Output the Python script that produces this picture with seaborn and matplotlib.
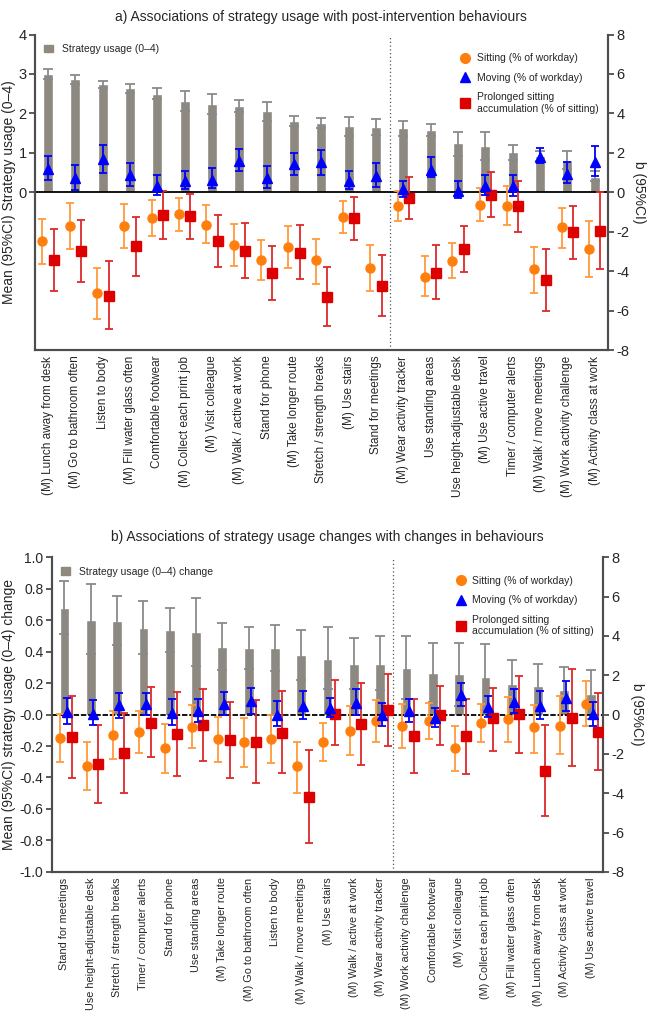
import numpy as np
import pandas as pd
import matplotlib
matplotlib.use("Agg")
import matplotlib.pyplot as plt
from matplotlib.patches import Patch
from matplotlib.lines import Line2D
import seaborn as sns

# ---- data: panel a ----
top_labels = ["(M) Lunch away from desk", "(M) Go to bathroom often", "Listen to body",
              "(M) Fill water glass often", "Comfortable footwear", "(M) Collect each print job",
              "(M) Visit colleague", "(M) Walk / active at work", "Stand for phone",
              "(M) Take longer route", "Stretch / strength breaks", "(M) Use stairs",
              "Stand for meetings", "(M) Wear activity tracker", "Use standing areas",
              "Use height-adjustable desk", "(M) Use active travel", "Timer / computer alerts",
              "(M) Walk / move meetings", "(M) Work activity challenge", "(M) Activity class at work"]
top_usage = [3.00, 2.86, 2.74, 2.64, 2.50, 2.31, 2.25, 2.19, 2.05, 1.80, 1.76, 1.67, 1.65, 1.64, 1.57, 1.25, 1.17, 1.01, 0.93, 0.83, 0.40]
top_usage_lo = [2.86, 2.74, 2.65, 2.52, 2.36, 2.05, 1.99, 2.04, 1.80, 1.67, 1.63, 1.44, 1.46, 1.44, 1.42, 0.93, 0.82, 0.82, 0.80, 0.59, 0.30]
top_usage_hi = [3.13, 2.97, 2.82, 2.75, 2.64, 2.56, 2.50, 2.35, 2.28, 1.94, 1.89, 1.92, 1.85, 1.82, 1.72, 1.53, 1.53, 1.20, 1.06, 1.06, 0.55]

top_sit = [-2.49, -1.73, -5.12, -1.73, -1.31, -1.12, -1.64, -2.68, -3.44, -2.76, -3.44, -1.27, -3.85, -0.71, -4.27, -3.47, -0.63, -0.71, -3.90, -1.78, -2.88]
top_sit_lo = [-3.64, -2.88, -6.41, -2.83, -2.20, -1.95, -2.59, -3.73, -4.46, -3.81, -4.63, -2.08, -5.00, -1.47, -5.25, -4.32, -1.44, -1.64, -5.08, -2.80, -4.29]
top_sit_hi = [-1.36, -0.54, -3.81, -0.59, -0.39, -0.31, -0.66, -1.61, -2.41, -1.73, -2.34, -0.46, -2.68, 0.08, -3.25, -2.59, 0.22, 0.31, -2.76, -0.80, -1.44]

top_move = [1.19, 0.73, 1.69, 0.90, 0.34, 0.60, 0.65, 1.60, 0.73, 1.44, 1.52, 0.60, 0.85, 0.17, 1.14, 0.08, 0.34, 0.30, 1.78, 0.93, 1.53]
top_move_lo = [0.64, 0.14, 1.00, 0.32, -0.14, 0.17, 0.22, 1.07, 0.20, 0.90, 0.90, 0.17, 0.29, -0.25, 0.76, -0.29, -0.14, -0.17, 1.47, 0.49, 0.81]
top_move_hi = [1.86, 1.37, 2.39, 1.51, 0.88, 1.08, 1.24, 2.20, 1.32, 2.00, 2.15, 1.07, 1.49, 0.59, 1.80, 0.59, 0.86, 0.88, 2.24, 1.54, 2.34]

top_prol = [-3.42, -2.97, -5.24, -2.73, -1.15, -1.22, -2.46, -2.97, -4.10, -3.05, -5.29, -1.32, -4.75, -0.31, -4.07, -2.88, -0.14, -0.71, -4.46, -2.03, -1.95]
top_prol_lo = [-5.00, -4.54, -6.95, -4.24, -2.36, -2.34, -3.76, -4.36, -5.47, -4.41, -6.78, -2.41, -6.27, -1.36, -5.42, -4.02, -1.24, -2.00, -6.02, -3.39, -3.90]
top_prol_hi = [-1.86, -1.41, -3.47, -1.24, 0.05, -0.08, -1.15, -1.53, -2.71, -1.64, -3.76, -0.22, -3.17, 0.76, -2.68, -1.69, 1.02, 0.59, -2.88, -0.68, 0.00]

# ---- data: panel b ----
bot_labels = ["Stand for meetings", "Use height-adjustable desk", "Stretch / strength breaks",
              "Timer / computer alerts", "Stand for phone", "Use standing areas",
              "(M) Take longer route", "(M) Go to bathroom often", "Listen to body",
              "(M) Walk / move meetings", "(M) Use stairs", "(M) Walk / active at work",
              "(M) Wear activity tracker", "(M) Work activity challenge", "Comfortable footwear",
              "(M) Visit colleague", "(M) Collect each print job", "(M) Fill water glass often",
              "(M) Lunch away from desk", "(M) Activity class at work", "(M) Use active travel"]
bot_usage = [0.677, 0.603, 0.593, 0.552, 0.535, 0.524, 0.430, 0.420, 0.420, 0.376, 0.355, 0.323, 0.323, 0.298, 0.266, 0.256, 0.239, 0.192, 0.180, 0.154, 0.129]
bot_usage_lo = [0.514, 0.383, 0.440, 0.383, 0.400, 0.307, 0.285, 0.292, 0.277, 0.218, 0.165, 0.160, 0.154, 0.100, 0.080, 0.055, 0.030, 0.040, 0.035, 0.010, -0.030]
bot_usage_hi = [0.846, 0.830, 0.755, 0.720, 0.680, 0.742, 0.580, 0.556, 0.570, 0.535, 0.556, 0.486, 0.497, 0.497, 0.457, 0.457, 0.450, 0.345, 0.323, 0.300, 0.285]

bot_sit = [-1.17, -2.62, -1.04, -0.87, -1.72, -0.63, -1.26, -1.40, -1.26, -2.62, -1.38, -0.86, -0.34, -0.58, -0.32, -1.72, -0.42, -0.25, -0.63, -0.58, 0.56]
bot_sit_lo = [-2.40, -3.83, -2.27, -1.94, -2.97, -1.72, -2.43, -2.65, -2.48, -4.00, -2.35, -2.05, -1.42, -1.68, -1.22, -2.87, -1.39, -1.39, -1.98, -2.02, -0.59]
bot_sit_hi = [0.05, -1.42, 0.17, 0.17, -0.46, 0.47, -0.12, -0.20, 0.00, -1.41, -0.42, 0.42, 0.76, 0.53, 0.59, -0.59, 0.56, 0.90, 0.47, 0.93, 1.71]

bot_move = [0.14, 0.05, 0.47, 0.53, 0.10, 0.17, 0.53, 0.68, 0.00, 0.42, 0.31, 0.59, 0.00, 0.19, -0.15, 1.02, 0.39, 0.64, 0.44, 0.85, 0.02]
bot_move_lo = [-0.49, -0.51, -0.15, -0.03, -0.54, -0.37, -0.03, 0.02, -0.59, -0.25, -0.12, -0.03, -0.58, -0.37, -0.63, 0.42, -0.12, 0.08, -0.24, 0.17, -0.58]
bot_move_hi = [0.85, 0.76, 1.12, 1.12, 0.78, 0.81, 1.15, 1.36, 0.69, 1.20, 0.86, 1.32, 0.59, 0.81, 0.31, 1.63, 0.95, 1.29, 1.20, 1.69, 0.64]

bot_prol = [-1.16, -2.52, -1.97, -0.41, -1.00, -0.54, -1.30, -1.38, -0.92, -4.17, 0.02, -0.49, 0.25, -1.09, -0.03, -1.10, -0.20, 0.02, -2.85, -0.15, -0.88]
bot_prol_lo = [-3.24, -4.51, -4.00, -2.17, -3.13, -2.35, -3.24, -3.46, -2.97, -6.54, -1.56, -2.55, -1.59, -2.97, -1.56, -3.00, -1.85, -1.93, -5.15, -2.63, -2.83]
bot_prol_hi = [0.93, -0.51, 0.08, 1.41, 1.15, 1.32, 0.64, 0.75, 1.19, -1.80, 1.75, 1.63, 2.05, 0.78, 1.46, 0.78, 1.37, 1.95, -0.54, 2.34, 1.10]

# ---- style ----
sns.set_style("ticks")
plt.rcParams['font.family'] = ['Liberation Sans', 'DejaVu Sans']
plt.rcParams['axes.unicode_minus'] = False

BAR_C = "#8f897e"
BAR_ERR = "#8a8a8a"
SIT_C = "#ff7f0e"
SIT_ERR = "#ff9a3c"
MOV_C = "#0000ff"
PRO_C = "#dd0000"
PRO_ERR = "#dd2a2a"
SPINE = "#4d4d4d"


def err(v, lo, hi):
    v, lo, hi = np.array(v), np.array(lo), np.array(hi)
    return np.vstack([v - lo, hi - v])


def panel(ax, labels, usage, u_lo, u_hi, sit, s_lo, s_hi, mov, m_lo, m_hi, pro, p_lo, p_hi,
          offs, label_size, left_size, zero_ls, bar_label, right_lab_x):
    df = pd.DataFrame({"strategy": labels, "usage": usage})
    sns.barplot(data=df, x="strategy", y="usage", color=BAR_C, width=0.37,
                errorbar=None, ax=ax, zorder=2)
    x = np.arange(len(labels))
    ax.errorbar(x, usage, yerr=err(usage, u_lo, u_hi), fmt="none", ecolor=BAR_ERR,
                elinewidth=1.3, capsize=3.5, capthick=1.3, zorder=3)
    ax.set_xlim(-0.48, len(labels) - 0.52)

    ax2 = ax.twinx()
    ax2.set_ylim(-8, 8)
    ax2.set_yticks(np.arange(-8, 9, 2))
    ax2.axvline(12.5, color="#555555", lw=0.9, ls=(0, (1, 2)), zorder=1)
    ax2.axhline(0, color="black", lw=1.3, ls=zero_ls, zorder=2)
    ax2.errorbar(x + offs[0], sit, yerr=err(sit, s_lo, s_hi), fmt="o", color=SIT_C,
                 ecolor=SIT_ERR, ms=6.5, elinewidth=1.3, capsize=3, capthick=1.3, zorder=4)
    ax2.errorbar(x + offs[1], mov, yerr=err(mov, m_lo, m_hi), fmt="^", color=MOV_C,
                 ecolor=MOV_C, ms=6.5, elinewidth=1.3, capsize=3, capthick=1.3, zorder=5)
    ax2.errorbar(x + offs[2], pro, yerr=err(pro, p_lo, p_hi), fmt="s", color=PRO_C,
                 ecolor=PRO_ERR, ms=6.5, elinewidth=1.3, capsize=3, capthick=1.3, zorder=4)
    ax2.set_ylabel("b (95%CI)", rotation=270, fontsize=10, va="center")
    ax2.yaxis.set_label_coords(right_lab_x, 0.5)

    ax.set_xlabel("")
    ax.set_xticks(x)
    ax.set_xticklabels(labels, rotation=90, fontsize=label_size)
    ax.tick_params(axis="x", length=0, pad=4)
    ax.tick_params(axis="y", labelsize=left_size, pad=2)
    ax2.tick_params(axis="y", labelsize=10.5, pad=2)
    for a in (ax, ax2):
        a.tick_params(axis="y", width=1.3, length=4, color=SPINE)
        a.spines["top"].set_visible(False)
        for s in ("left", "right", "bottom"):
            a.spines[s].set_linewidth(1.5)
            a.spines[s].set_color(SPINE)

    ax.legend(handles=[Patch(color=BAR_C, label=bar_label)], loc="upper left",
              bbox_to_anchor=(0.0, 1.0), frameon=False, fontsize=7.5,
              handlelength=0.8, handleheight=0.7, handletextpad=0.9)
    handles = [Line2D([], [], ls="none", marker="o", color=SIT_C, ms=7, label="Sitting (% of workday)"),
               Line2D([], [], ls="none", marker="^", color=MOV_C, ms=7, label="Moving (% of workday)"),
               Line2D([], [], ls="none", marker="s", color=PRO_C, ms=7,
                      label="Prolonged sitting\naccumulation (% of sitting)")]
    ax2.legend(handles=handles, loc="upper right", bbox_to_anchor=(1.0, 0.97), frameon=False,
               fontsize=7.5, handletextpad=0.6, labelspacing=0.9, handlelength=1.0)
    return ax2


fig = plt.figure(figsize=(6.48, 10.15), dpi=100)

ax_a = fig.add_axes([0.054, 0.655, 0.884, 0.311])
panel(ax_a, top_labels, top_usage, top_usage_lo, top_usage_hi,
      top_sit, top_sit_lo, top_sit_hi, top_move, top_move_lo, top_move_hi,
      top_prol, top_prol_lo, top_prol_hi, offs=(-0.21, 0.0, 0.21),
      label_size=8.5, left_size=10.5, zero_ls="-", bar_label="Strategy usage (0\u20134)",
      right_lab_x=1.055)
ax_a.set_ylim(-4, 4)
ax_a.set_yticks([0, 1, 2, 3, 4])
ax_a.set_ylabel("Mean (95%CI) Strategy usage (0\u20134)", fontsize=10, va="center")
ax_a.yaxis.set_label_coords(-0.046, 0.5)
ax_a.set_title("a) Associations of strategy usage with post-intervention behaviours",
               fontsize=10, pad=10)

ax_b = fig.add_axes([0.08, 0.141, 0.851, 0.310])
panel(ax_b, bot_labels, bot_usage, bot_usage_lo, bot_usage_hi,
      bot_sit, bot_sit_lo, bot_sit_hi, bot_move, bot_move_lo, bot_move_hi,
      bot_prol, bot_prol_lo, bot_prol_hi, offs=(-0.16, 0.08, 0.28),
      label_size=7.8, left_size=10, zero_ls=(0, (3, 1)),
      bar_label="Strategy usage (0\u20134) change", right_lab_x=1.062)
ax_b.set_ylim(-1, 1)
ax_b.set_yticks(np.round(np.arange(-1.0, 1.01, 0.2), 1))
ax_b.yaxis.set_major_formatter(matplotlib.ticker.FormatStrFormatter("%.1f"))
ax_b.set_ylabel("Mean (95%CI) strategy usage (0\u20134) change", fontsize=10, va="center")
ax_b.yaxis.set_label_coords(-0.078, 0.5)
ax_b.set_title("b) Associations of strategy usage changes with changes in behaviours",
               fontsize=10, pad=12)

fig.savefig("out.png", dpi=100)
